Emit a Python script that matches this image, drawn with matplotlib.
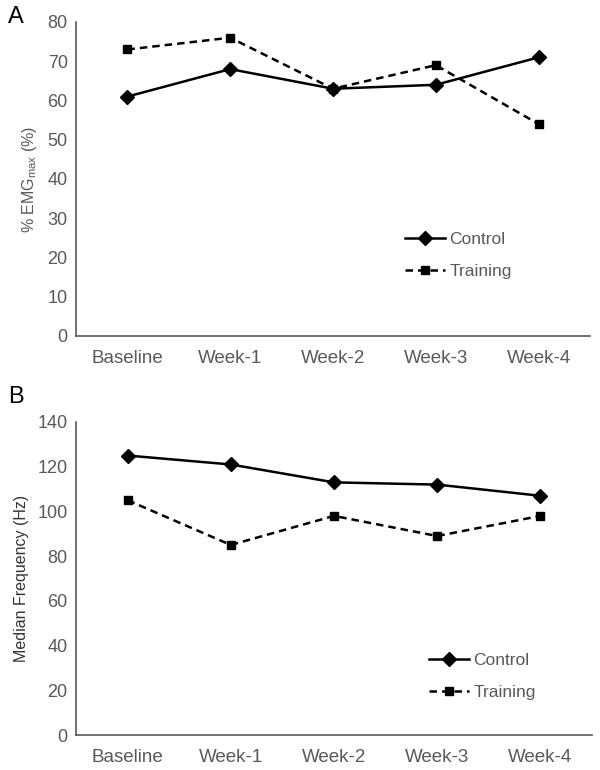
import matplotlib.pyplot as plt

plt.rcParams['font.family'] = ['Liberation Sans', 'DejaVu Sans']

# Data
weeks = ['Baseline', 'Week-1', 'Week-2', 'Week-3', 'Week-4']
emg_control = [61, 68, 63, 64, 71]
emg_training = [73, 76, 63, 69, 54]
freq_control = [125, 121, 113, 112, 107]
freq_training = [105, 85, 98, 89, 98]

gray = '#595959'

fig = plt.figure(figsize=(6, 7.7), dpi=100)
# axes positions in figure fractions (left, bottom, width, height)
axA = fig.add_axes([76/600, 1 - 336/770, 514/600, 314/770])
axB = fig.add_axes([76/600, 1 - 735/770, 516/600, 313/770])

def style(ax, ymax, step):
    x = range(len(weeks))
    ax.set_xlim(-0.5, len(weeks) - 0.5)
    ax.set_ylim(0, ymax)
    ax.set_yticks(range(0, ymax + 1, step))
    ax.set_xticks(list(x))
    ax.set_xticklabels(weeks)
    for s in ['top', 'right']:
        ax.spines[s].set_visible(False)
    for s in ['left', 'bottom']:
        ax.spines[s].set_color(gray)
        ax.spines[s].set_linewidth(1.2)
    ax.tick_params(length=0, labelsize=13, labelcolor=gray)
    ax.tick_params(axis='x', pad=10, labelsize=13.5)
    ax.tick_params(axis='y', pad=6)

def draw(ax, ctrl, trn, legend_pos):
    x = range(len(weeks))
    ax.plot(x, ctrl, color='black', linewidth=1.8, linestyle='-',
            marker='D', markersize=7, label='Control')
    ax.plot(x, trn, color='black', linewidth=1.8, linestyle=(0, (3, 2)),
            marker='s', markersize=6, label='Training')
    ax.legend(loc='upper left', bbox_to_anchor=legend_pos, frameon=False,
              fontsize=12.5, handlelength=2.3, handletextpad=0.25,
              labelspacing=1.0, borderpad=0, borderaxespad=0,
              labelcolor=gray)

style(axA, 80, 10)
draw(axA, emg_control, emg_training, (0.640, 0.332))
axA.set_ylabel('% EMG$_{\\mathregular{max}}$ (%)', color=gray, fontsize=11.5, labelpad=6)

style(axB, 140, 20)
draw(axB, freq_control, freq_training, (0.684, 0.263))
axB.set_ylabel('Median Frequency (Hz)', color='#333333', fontsize=11.5, labelpad=6)

fig.text(8/600, 1 - 17/770, 'A', fontsize=17, va='center', ha='left')
fig.text(8/600, 1 - 397/770, 'B', fontsize=17, va='center', ha='left')

fig.savefig('out.png', dpi=100)
